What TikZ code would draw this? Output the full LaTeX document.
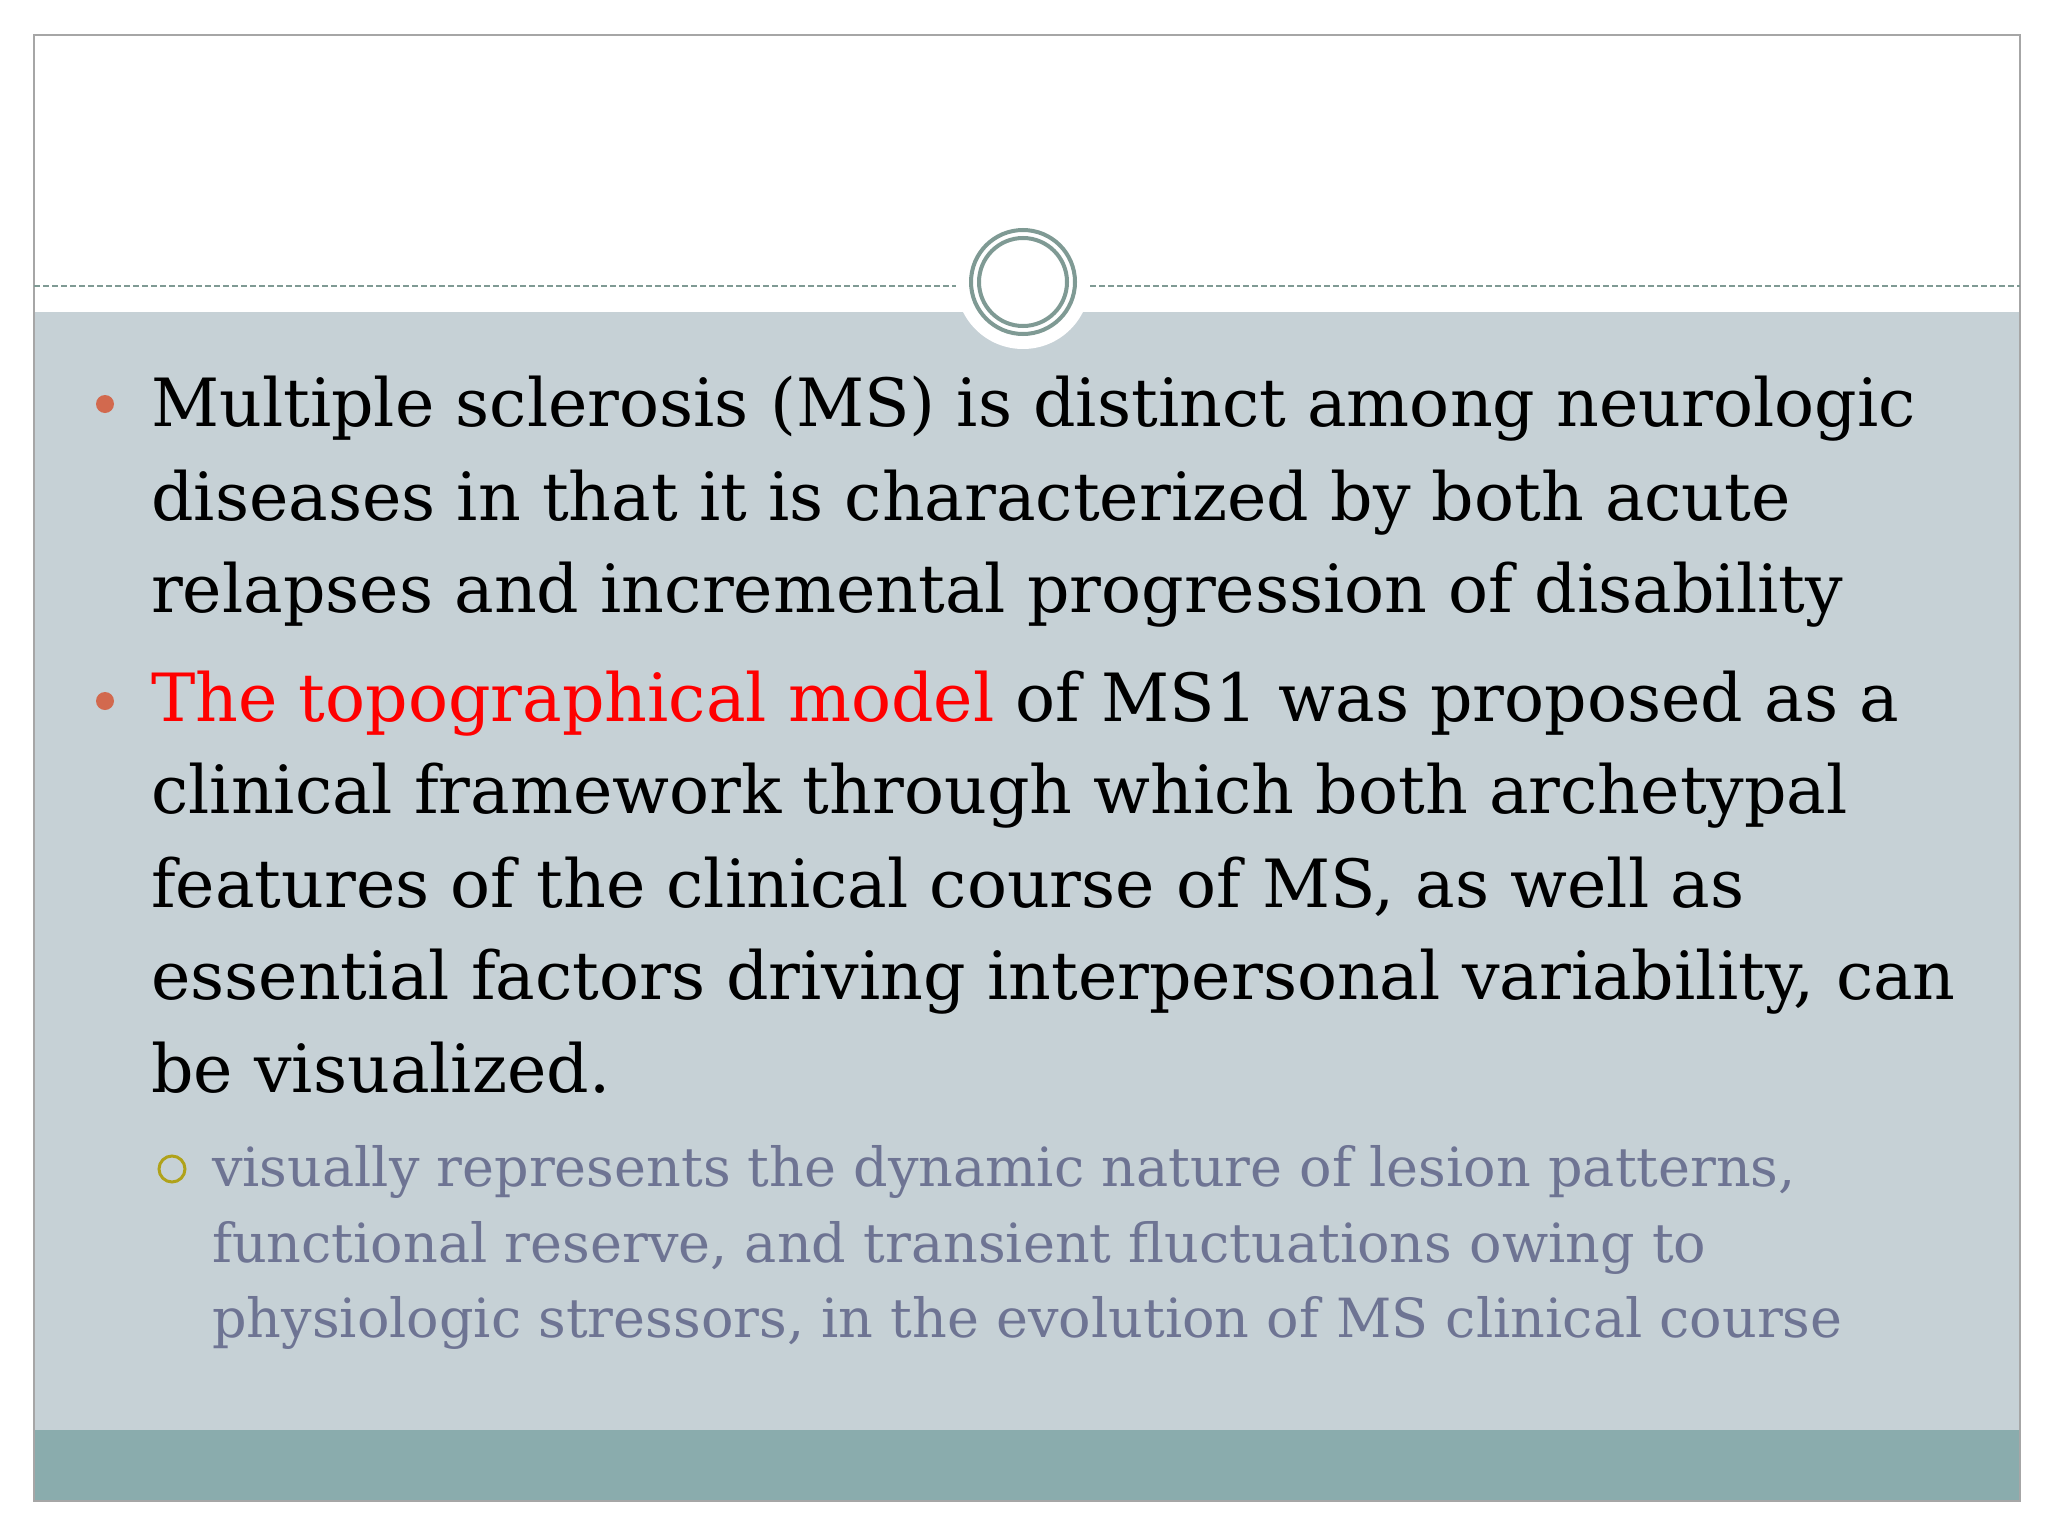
\documentclass[tikz,border=0pt]{standalone}
\usepackage{fontspec}
\setmainfont{DejaVu Serif}
\definecolor{panel}{HTML}{C6D1D6}
\definecolor{foot}{HTML}{8AACAD}
\definecolor{ring}{HTML}{7F9A94}
\definecolor{bul}{HTML}{D2694E}
\definecolor{subc}{HTML}{6E7493}
\definecolor{subb}{HTML}{B0A21A}
\begin{document}
\begin{tikzpicture}[x=1pt,y=-1pt,
  mainline/.style={anchor=base west,inner sep=0pt,font=\fontsize{66.5}{78}\selectfont},
  subline/.style={anchor=base west,inner sep=0pt,font=\fontsize{54}{66}\selectfont,text=subc}]
\useasboundingbox (0,0) rectangle (2048,1536);
\fill[white] (0,0) rectangle (2048,1536);
\fill[panel] (34,312) rectangle (2020,1430);
\fill[foot] (34,1430) rectangle (2020,1501);
\draw[gray!70,line width=1.5] (34,35) rectangle (2020,1501);
\draw[ring,dash pattern=on 6pt off 3pt,line width=1.5] (34,286) -- (958,286);
\draw[ring,dash pattern=on 6pt off 3pt,line width=1.5] (1090,286) -- (2020,286);
\fill[white] (1023,282) circle (67);
\node[circle,draw=ring,line width=4,minimum size=104,inner sep=0pt] (ro) at (1023,282) {};
\node[circle,draw=ring,line width=4,minimum size=88,inner sep=0pt] (ri) at (1023,282) {};
\node[circle,fill=bul,minimum size=18,inner sep=0pt] (b1) at (105,404) {};
\node[circle,fill=bul,minimum size=18,inner sep=0pt] (b2) at (105,701) {};
\node[circle,draw=subb,line width=3,minimum size=26,inner sep=0pt] (b3) at (172,1169) {};
\node[mainline] (l1) at (151,426) {Multiple sclerosis (MS) is distinct among neurologic};
\node[mainline] (l2) at (151,520) {diseases in that it is characterized by both acute};
\node[mainline] (l3) at (151,612) {relapses and incremental progression of disability};
\node[mainline] (l4) at (151,721) {\textcolor{red}{The topographical model} of MS1 was proposed as a};
\node[mainline] (l5) at (151,813) {clinical framework through which both archetypal};
\node[mainline] (l6) at (151,907) {features of the clinical course of MS, as well as};
\node[mainline] (l7) at (151,999) {essential factors driving interpersonal variability, can};
\node[mainline] (l8) at (151,1092) {be visualized.};
\node[subline] (s1) at (212,1186) {visually represents the dynamic nature of lesion patterns,};
\node[subline] (s2) at (212,1262) {functional reserve, and transient fluctuations owing to};
\node[subline] (s3) at (212,1337) {physiologic stressors, in the evolution of MS clinical course};
\end{tikzpicture}
\end{document}
